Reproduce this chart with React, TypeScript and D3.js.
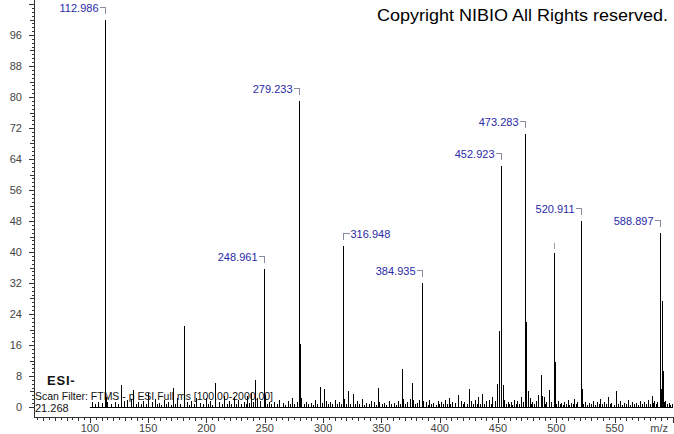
import React from 'react';
import * as d3 from 'd3';

// labelled peaks (m/z, relative intensity, label side)
const labelMz = [112.986, 279.233, 248.961, 316.948, 384.935, 452.923, 473.283, 520.911, 588.897];
const labelInt = [100, 79, 35.5, 41.5, 32.1, 62.3, 70.4, 48, 45];
const labelSide = ['left', 'left', 'left', 'right', 'left', 'left', 'left', 'left', 'left'];

// unlabelled peak with only a marker tick
const markMz = [497.9];
const markInt = [39.8];

// remaining peaks [m/z, intensity]
const otherPeaks = [
  [101.5, 1.2], [104.8, 0.8], [107.3, 1.4], [110.2, 1.1], [113.99, 2.5], [114.6, 1.2],
  [118.2, 0.9], [121.4, 1.3], [124.0, 0.8], [126.7, 5.7], [128.9, 1.5], [131.5, 1.8],
  [135.2, 2.0], [137.0, 4.4], [139.3, 0.9], [141.3, 1.2], [143.6, 0.7], [145.8, 1.6],
  [147.9, 0.8], [149.9, 3.6], [153.0, 1.4], [155.8, 2.1], [157.4, 0.7], [159.1, 1.0],
  [161.0, 0.6], [163.2, 1.8], [165.2, 0.8], [167.4, 1.3], [169.4, 0.6], [171.3, 4.9],
  [173.2, 0.9], [175.1, 2.2], [177.6, 0.7], [180.7, 21], [183.0, 1.2], [184.7, 0.6],
  [186.5, 1.6], [188.9, 0.8], [191.2, 2.4], [194.8, 1.1], [197.0, 0.7], [199.6, 2.2],
  [201.4, 0.8], [203.1, 1.5], [205.0, 0.6], [207.3, 6.2], [210.8, 1.3], [213.0, 0.7],
  [215.4, 2.8], [217.3, 0.9], [219.0, 1.5], [221.4, 0.7], [223.6, 2.6], [225.3, 0.8],
  [227.2, 1.8], [229.6, 0.9], [231.9, 1.4], [233.5, 0.7], [235.0, 2.9], [236.8, 1.1],
  [238.4, 3.5], [240.1, 1.2], [241.6, 7.0], [243.5, 2.4], [246.0, 1.5], [250.0, 3.0],
  [251.6, 0.9], [253.4, 1.4], [255.7, 0.7], [257.9, 1.2], [260.1, 0.8], [262.0, 1.9],
  [265.4, 1.1], [267.4, 0.6], [269.7, 1.6], [271.2, 0.8], [273.0, 2.3], [275.2, 0.9],
  [277.3, 1.3], [280.24, 16.3], [281.3, 2.2], [283.2, 0.8], [285.0, 1.4], [287.4, 0.7],
  [289.5, 1.1], [291.1, 0.6], [293.1, 1.8], [295.2, 0.9], [297.3, 5.2], [299.0, 1.0],
  [300.8, 4.6], [302.5, 1.5], [304.3, 0.7], [306.0, 1.2], [308.0, 0.8], [310.2, 1.9],
  [312.0, 0.7], [313.8, 1.4], [315.2, 0.9], [318.0, 2.0], [319.6, 0.8], [321.3, 4.1],
  [323.5, 0.9], [325.6, 3.3], [327.2, 0.7], [329.0, 1.5], [331.0, 0.8], [333.1, 2.1],
  [335.0, 0.6], [337.2, 1.1], [339.4, 0.7], [341.5, 1.6], [344.0, 1.2], [345.6, 0.6],
  [347.0, 4.9], [348.2, 1.3], [350.2, 0.7], [352.0, 1.1], [354.1, 0.6], [356.4, 1.6],
  [358.6, 0.8], [360.8, 1.0], [362.4, 0.6], [364.0, 1.5], [366.0, 0.8], [367.7, 9.8],
  [368.6, 2.1], [370.2, 0.8], [371.9, 1.4], [374.3, 2.0], [376.2, 6.2], [377.3, 1.7],
  [378.9, 0.7], [380.5, 1.1], [382.4, 1.8], [386.0, 1.6], [388.6, 1.2], [390.0, 0.6],
  [391.0, 1.8], [392.8, 0.7], [394.5, 1.1], [396.4, 0.6], [398.2, 1.6], [399.8, 0.8],
  [401.3, 1.3], [403.0, 0.7], [404.4, 1.9], [406.0, 0.8], [407.7, 2.4], [409.2, 0.7],
  [410.8, 1.4], [413.1, 1.0], [415.7, 3.0], [418.2, 1.5], [419.6, 0.7], [421.0, 1.3],
  [423.0, 0.8], [425.1, 4.6], [427.0, 1.5], [428.6, 0.7], [430.2, 1.7], [431.6, 0.8],
  [433.1, 2.6], [434.6, 0.9], [436.3, 3.3], [437.8, 0.8], [439.5, 1.5], [442.0, 1.8],
  [443.6, 0.8], [445.2, 2.5], [447.6, 1.6], [449.1, 5.9], [450.8, 19.6], [454.3, 5.7],
  [455.4, 1.8], [456.8, 0.8], [458.4, 1.4], [459.8, 0.7], [461.0, 1.2], [462.4, 0.6],
  [463.7, 1.9], [465.0, 0.8], [466.2, 1.5], [467.8, 0.7], [469.5, 2.7], [471.2, 1.3],
  [474.0, 21.9], [475.7, 4.1], [477.2, 2.3], [478.4, 0.9], [479.5, 1.4], [481.0, 0.8],
  [482.4, 1.6], [484.6, 3.1], [486.8, 8.3], [488.0, 2.8], [489.1, 2.5], [490.3, 0.8],
  [491.5, 1.2], [493.7, 4.4], [495.6, 1.3], [498.9, 11.6], [500.0, 0.8], [501.2, 1.5],
  [502.8, 0.7], [504.3, 1.0], [505.6, 0.6], [507.0, 1.3], [508.4, 0.7], [509.9, 1.8],
  [511.2, 0.6], [512.5, 1.1], [514.0, 0.7], [515.2, 2.1], [516.6, 0.8], [518.0, 1.4],
  [521.9, 4.6], [523.2, 0.9], [524.6, 1.3], [526.2, 0.6], [528.0, 1.0], [529.6, 0.7],
  [531.4, 1.6], [533.0, 0.6], [534.5, 1.2], [536.2, 0.7], [537.8, 2.0], [539.2, 0.8],
  [540.8, 1.3], [542.4, 0.7], [544.0, 2.6], [545.6, 0.9], [547.3, 1.1], [549.4, 0.6],
  [551.2, 4.1], [552.8, 0.8], [554.5, 1.5], [556.2, 0.6], [557.9, 1.1], [559.6, 0.7],
  [561.2, 1.7], [563.0, 0.6], [564.7, 1.3], [566.6, 0.7], [568.3, 1.0], [570.0, 0.6],
  [571.5, 1.5], [573.4, 0.7], [575.4, 1.2], [577.0, 0.8], [578.6, 1.9], [580.4, 0.9],
  [581.9, 2.8], [583.0, 1.1], [584.0, 1.6], [585.2, 0.8], [586.3, 1.2], [589.9, 4.6],
  [590.6, 27.4], [591.5, 9.3], [592.4, 1.2], [593.5, 1.5], [594.8, 0.7], [596.3, 1.0],
  [597.6, 0.6], [599.0, 0.8],
];

const yTickLabels = [0, 8, 16, 24, 32, 40, 48, 56, 64, 72, 80, 88, 96];
const xTickLabels = [100, 150, 200, 250, 300, 350, 400, 450, 500, 550];

const W = 674;
const H = 434;
const FONT = '"Liberation Sans", Arial, sans-serif';

export default function App() {
  const x = d3.scaleLinear().domain([112.986, 588.897]).range([105, 660]);
  const y = d3.scaleLinear().domain([0, 100]).range([407, 19.5]);
  const axisX = 34;
  const axisY = 417;
  const px = (v: number) => Math.round(x(v)) + 0.5;

  const yMinor = d3.range(0, 105, 1);
  const xMinor = d3.range(55, 605, 5).filter((v) => x(v) > axisX && x(v) < W);

  const allPeaks = [
    ...otherPeaks,
    ...labelMz.map((m, i) => [m, labelInt[i]]),
    ...markMz.map((m, i) => [m, markInt[i]]),
  ];

  return (
    <svg width={W} height={H} style={{ position: 'absolute', left: 0, top: 0, background: '#fff' }} fontFamily={FONT}>
      <rect width={W} height={H} fill="#fff" />
      {/* copyright */}
      <text x={377} y={21} fontSize={16.5} fill="#000" textLength={291} lengthAdjust="spacingAndGlyphs">
        Copyright NIBIO All Rights reserved.
      </text>

      {/* info text (behind bars) */}
      <text x={47} y={385} fontSize={13} fill="#111" letterSpacing={0.8} fontWeight="bold">ESI-</text>
      <text x={35} y={400} fontSize={11} fill="#111" textLength={238} lengthAdjust="spacingAndGlyphs">
        Scan Filter: FTMS - p ESI Full ms [100.00-2000.00]
      </text>
      <text x={35} y={412} fontSize={11} fill="#111">21.268</text>

      {/* baseline */}
      <line x1={x(100)} x2={x(600)} y1={y(0) + 0.5} y2={y(0) + 0.5} stroke="#000" strokeWidth={1} />

      {/* peaks */}
      <g stroke="#000" strokeWidth={1} shapeRendering="crispEdges">
        {allPeaks.map(([m, v], i) => (
          <line key={i} x1={px(m)} x2={px(m)} y1={y(0)} y2={Math.round(y(v))} />
        ))}
      </g>

      {/* labels */}
      {labelMz.map((m, i) => {
        const top = Math.round(y(labelInt[i]));
        const xx = px(m);
        const by = top - 12.5;
        const ty = top - 8;
        const left = labelSide[i] === 'left';
        return (
          <g key={i}>
            <path
              d={left ? `M${xx - 6},${by}H${xx}V${top - 6}` : `M${xx + 6},${by}H${xx}V${top - 6}`}
              fill="none"
              stroke="#8a8aa0"
              strokeWidth={1}
              shapeRendering="crispEdges"
            />
            <text
              x={left ? xx - 7 : xx + 7}
              y={ty}
              fontSize={11}
              fill="#2a2aa8"
              textAnchor={left ? 'end' : 'start'}
            >
              {m.toFixed(3)}
            </text>
          </g>
        );
      })}
      {markMz.map((m, i) => {
        const top = Math.round(y(markInt[i]));
        return (
          <line key={i} x1={px(m)} x2={px(m)} y1={top - 10} y2={top - 4} stroke="#9a9aaa" strokeWidth={1} shapeRendering="crispEdges" />
        );
      })}

      {/* y axis */}
      <g stroke="#333" strokeWidth={1} shapeRendering="crispEdges">
        <line x1={axisX + 0.5} x2={axisX + 0.5} y1={0} y2={axisY} />
        {yMinor.map((v) => (
          <line key={v} x1={axisX - (v % 8 === 0 ? 5 : v % 4 === 0 ? 4 : 2)} x2={axisX} y1={Math.round(y(v)) + 0.5} y2={Math.round(y(v)) + 0.5} />
        ))}
      </g>
      {yTickLabels.map((v) => (
        <text key={v} x={22} y={y(v) + 4} fontSize={11} fill="#444" textAnchor="end">{v}</text>
      ))}

      {/* x axis */}
      <g stroke="#333" strokeWidth={1} shapeRendering="crispEdges">
        <line x1={axisX} x2={W} y1={axisY + 0.5} y2={axisY + 0.5} />
        {xMinor.map((v) => (
          <line key={v} x1={px(v)} x2={px(v)} y1={axisY} y2={axisY + (v % 50 === 0 ? 6 : v % 10 === 0 ? 4 : 3)} />
        ))}
      </g>
      {xTickLabels.map((v) => (
        <text key={v} x={x(v)} y={432} fontSize={11} fill="#444" textAnchor="middle">{v}</text>
      ))}
      <text x={668} y={432} fontSize={11} fill="#444" textAnchor="end">m/z</text>
    </svg>
  );
}
